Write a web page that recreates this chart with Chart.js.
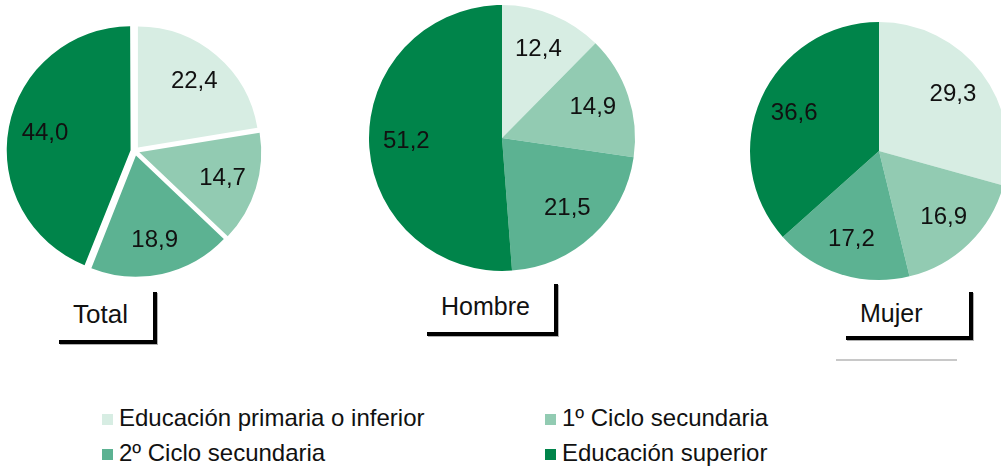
<!DOCTYPE html>
<html>
<head>
<meta charset="utf-8">
<script src="https://cdn.jsdelivr.net/npm/chart.js@4.4.0/dist/chart.umd.min.js"></script>
<style>
  body { margin: 0; width: 1001px; height: 470px; overflow: hidden; position: relative; background: #fff;
         font-family: "Liberation Sans", Arial, sans-serif; color: #111; }
  canvas { position: absolute; }
  .title { position: absolute; font-size: 25px; line-height: 1; white-space: nowrap; }
  .ln { position: absolute; background: #000; box-shadow: 1px 1px 0 #b0b0b0; }
  .leg { position: absolute; font-size: 24px; line-height: 1; white-space: nowrap; }
  .leg i { position: absolute; left: -17px; top: 8px; width: 11px; height: 11px; }
</style>
</head>
<body>
<canvas id="pieTotal" width="270" height="270" style="left:0px;top:16px"></canvas>
<canvas id="pieHombre" width="280" height="280" style="left:362px;top:-2px"></canvas>
<canvas id="pieMujer" width="280" height="280" style="left:739px;top:11px"></canvas>

<div class="title" style="left:73px;top:301px;font-size:26px">Total</div>
<div class="ln" style="left:59px;top:340px;width:98px;height:4px"></div>
<div class="ln" style="left:153px;top:292px;width:4px;height:52px"></div>

<div class="title" style="left:441px;top:294px">Hombre</div>
<div class="ln" style="left:427px;top:332px;width:131px;height:4px"></div>
<div class="ln" style="left:554px;top:284px;width:4px;height:52px"></div>

<div class="title" style="left:860px;top:301px">Mujer</div>
<div class="ln" style="left:846px;top:336px;width:127px;height:4px"></div>
<div class="ln" style="left:969px;top:292px;width:4px;height:48px"></div>
<div style="position:absolute;left:836px;top:359px;width:121px;height:2px;background:#c8c8c8"></div>

<div id="legend"></div>

<script>
const categories = ['Educación primaria o inferior', '1º Ciclo secundaria', '2º Ciclo secundaria', 'Educación superior'];
const totalValues = [22.4, 14.7, 18.9, 44.0];
const hombreValues = [12.4, 14.9, 21.5, 51.2];
const mujerValues = [29.3, 16.9, 17.2, 36.6];
const sliceColors = ['#d7ede3', '#92cbb2', '#5cb292', '#00844a'];

// numbers inside the slices
const sliceLabels = {
  id: 'sliceLabels',
  afterDatasetsDraw(chart) {
    const ctx = chart.ctx;
    const ds = chart.data.datasets[0];
    const meta = chart.getDatasetMeta(0);
    ctx.save();
    ctx.font = '24px "Liberation Sans", Arial, sans-serif';
    ctx.fillStyle = '#111';
    ctx.textAlign = 'center';
    ctx.textBaseline = 'middle';
    meta.data.forEach((arc, i) => {
      const p = arc.getProps(['x', 'y', 'startAngle', 'endAngle', 'outerRadius'], true);
      const a = (p.startAngle + p.endAngle) / 2;
      // chart.js moves an exploded arc by offset / 4
      const r = p.outerRadius * 0.72 + (ds.offset || 0) / 4;
      ctx.fillText(ds.data[i].toFixed(1).replace('.', ','), p.x + Math.cos(a) * r, p.y + Math.sin(a) * r);
    });
    ctx.restore();
  }
};

function makePie(id, values, radius, offset) {
  return new Chart(document.getElementById(id), {
    type: 'pie',
    data: {
      labels: categories,
      datasets: [{
        data: values,
        backgroundColor: sliceColors,
        borderWidth: 0,
        offset: offset,
        hoverOffset: 0
      }]
    },
    options: {
      responsive: false,
      animation: false,
      radius: radius,
      layout: { padding: 0 },
      plugins: {
        legend: { display: false },
        tooltip: { enabled: false }
      }
    },
    plugins: [sliceLabels]
  });
}

makePie('pieTotal', totalValues, 121, 18);
makePie('pieHombre', hombreValues, 133, 0);
makePie('pieMujer', mujerValues, 129, 0);

// legend, two columns
const legendPos = [[119, 406], [562, 406], [119, 441], [562, 441]];
const legend = document.getElementById('legend');
categories.forEach((c, i) => {
  const d = document.createElement('div');
  d.className = 'leg';
  d.style.left = legendPos[i][0] + 'px';
  d.style.top = legendPos[i][1] + 'px';
  d.innerHTML = '<i style="background:' + sliceColors[i] + '"></i>' + c;
  legend.appendChild(d);
});
</script>
</body>
</html>
